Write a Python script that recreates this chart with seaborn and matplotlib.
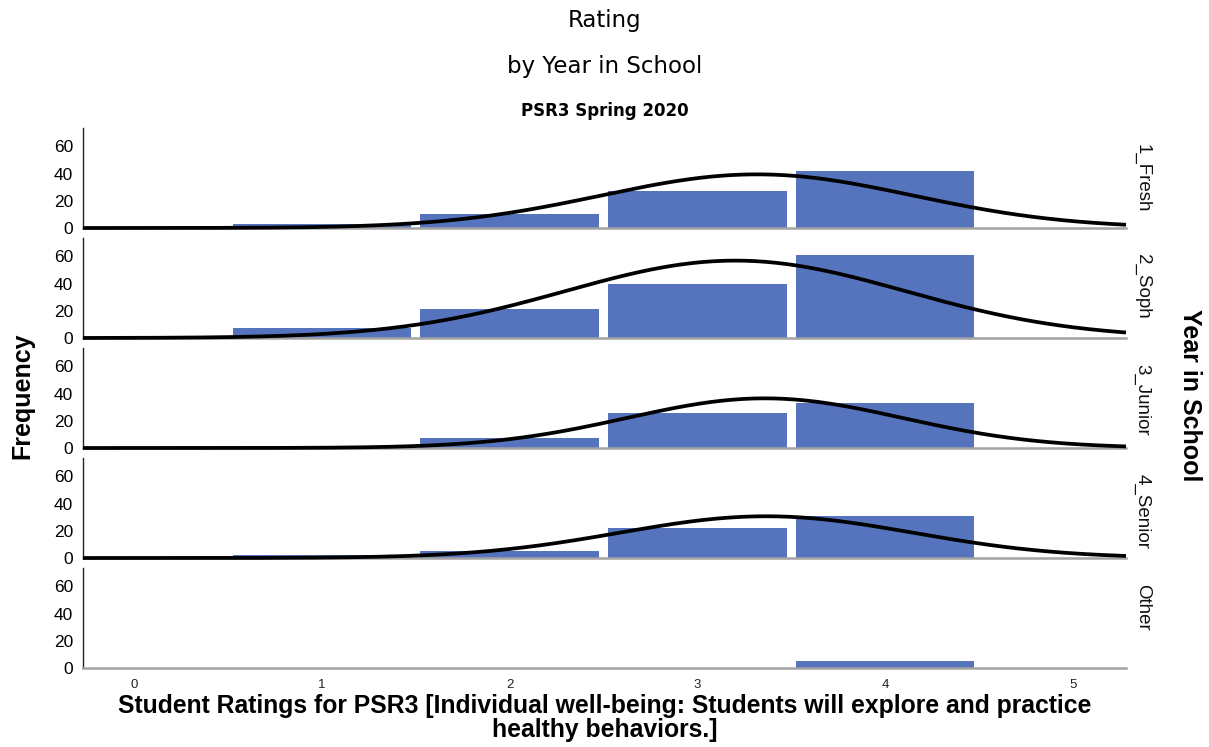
import numpy as np
import pandas as pd
import matplotlib
matplotlib.use("Agg")
import matplotlib.pyplot as plt
import seaborn as sns

# Counts of each rating per year group
years = ["1_Fresh", "2_Soph", "3_Junior", "4_Senior", "Other"]
ratings = [1, 2, 3, 4]
fresh = [3, 10, 27, 42]
soph = [7, 21, 40, 61]
junior = [1, 7, 26, 33]
senior = [2, 5, 22, 31]
other = [0, 0, 0, 5]
x_ticks = [0, 1, 2, 3, 4, 5]
y_ticks = [0, 20, 40, 60]

groups = [fresh, soph, junior, senior, other]

sns.set_style("white")
plt.rcParams["font.family"] = ["Liberation Sans", "DejaVu Sans"]
plt.rcParams["text.color"] = "black"

BAR = "#5574BD"
W, H = 1209, 747
fig = plt.figure(figsize=(W / 100, H / 100), dpi=100)

left_px, right_px = 83, 1126
xmin, xmax = -0.272, 5.282
ymax = 73.5

for i, (name, counts) in enumerate(zip(years, groups)):
    bottom_px = 228 + 110 * i
    ax = fig.add_axes([left_px / W, 1 - bottom_px / H,
                       (right_px - left_px) / W, 100 / H])
    df = pd.DataFrame({"rating": ratings, "count": counts})
    sns.histplot(data=df, x="rating", weights="count", discrete=True,
                 shrink=0.95, color=BAR, alpha=1, edgecolor="none",
                 linewidth=0, ax=ax)

    # fitted normal curve scaled to the group's frequencies
    vals = np.repeat(ratings, counts)
    n = len(vals)
    if n > 1 and vals.std() > 0:
        mu = vals.mean()
        sd = vals.std(ddof=1)
        xs = np.linspace(xmin, xmax, 400)
        ys = n * np.exp(-0.5 * ((xs - mu) / sd) ** 2) / (sd * np.sqrt(2 * np.pi))
        ax.plot(xs, ys, color="black", lw=2.7, clip_on=False, zorder=5,
                solid_capstyle="butt")

    ax.set_xlim(xmin, xmax)
    ax.set_ylim(0, ymax)
    ax.set_yticks(y_ticks)
    ax.set_xticks(x_ticks)
    ax.set_xlabel("")
    ax.set_ylabel("")
    ax.tick_params(axis="y", length=0, pad=7, labelsize=12.5, labelcolor="black")
    ax.tick_params(axis="x", length=0, pad=8, labelsize=9.5, labelcolor="#222222")
    if i < len(years) - 1:
        ax.tick_params(axis="x", labelbottom=False)
    for s in ("top", "right"):
        ax.spines[s].set_visible(False)
    ax.spines["left"].set_color("#222222")
    ax.spines["left"].set_linewidth(1.0)
    ax.spines["bottom"].set_color("#a3a3a3")
    ax.spines["bottom"].set_linewidth(1.8)
    ax.text(1.0075, 0.84, name, transform=ax.transAxes, rotation=-90,
            ha="left", va="top", fontsize=13.5, color="#111111")

fig.text(605 / W, 1 - 20 / H, "Rating", ha="center", va="center",
         fontsize=16.5, family="DejaVu Sans")
fig.text(605 / W, 1 - 67 / H, "by Year in School", ha="center", va="center",
         fontsize=16.5, family="DejaVu Sans")
fig.text(605 / W, 1 - 111 / H, "PSR3 Spring 2020", ha="center", va="center",
         fontsize=12, fontweight="bold", family="DejaVu Sans")
fig.text(22 / W, 1 - 396 / H, "Frequency", ha="center", va="center",
         rotation=90, fontsize=18, fontweight="bold")
fig.text(1190 / W, 1 - 395 / H, "Year in School", ha="center", va="center",
         rotation=-90, fontsize=18, fontweight="bold")
fig.text(605 / W, 1 - 718 / H,
         "Student Ratings for PSR3 [Individual well-being: Students will explore and practice\nhealthy behaviors.]",
         ha="center", va="center", fontsize=17.8, fontweight="bold",
         linespacing=0.95)

fig.savefig("out.png", dpi=100)
